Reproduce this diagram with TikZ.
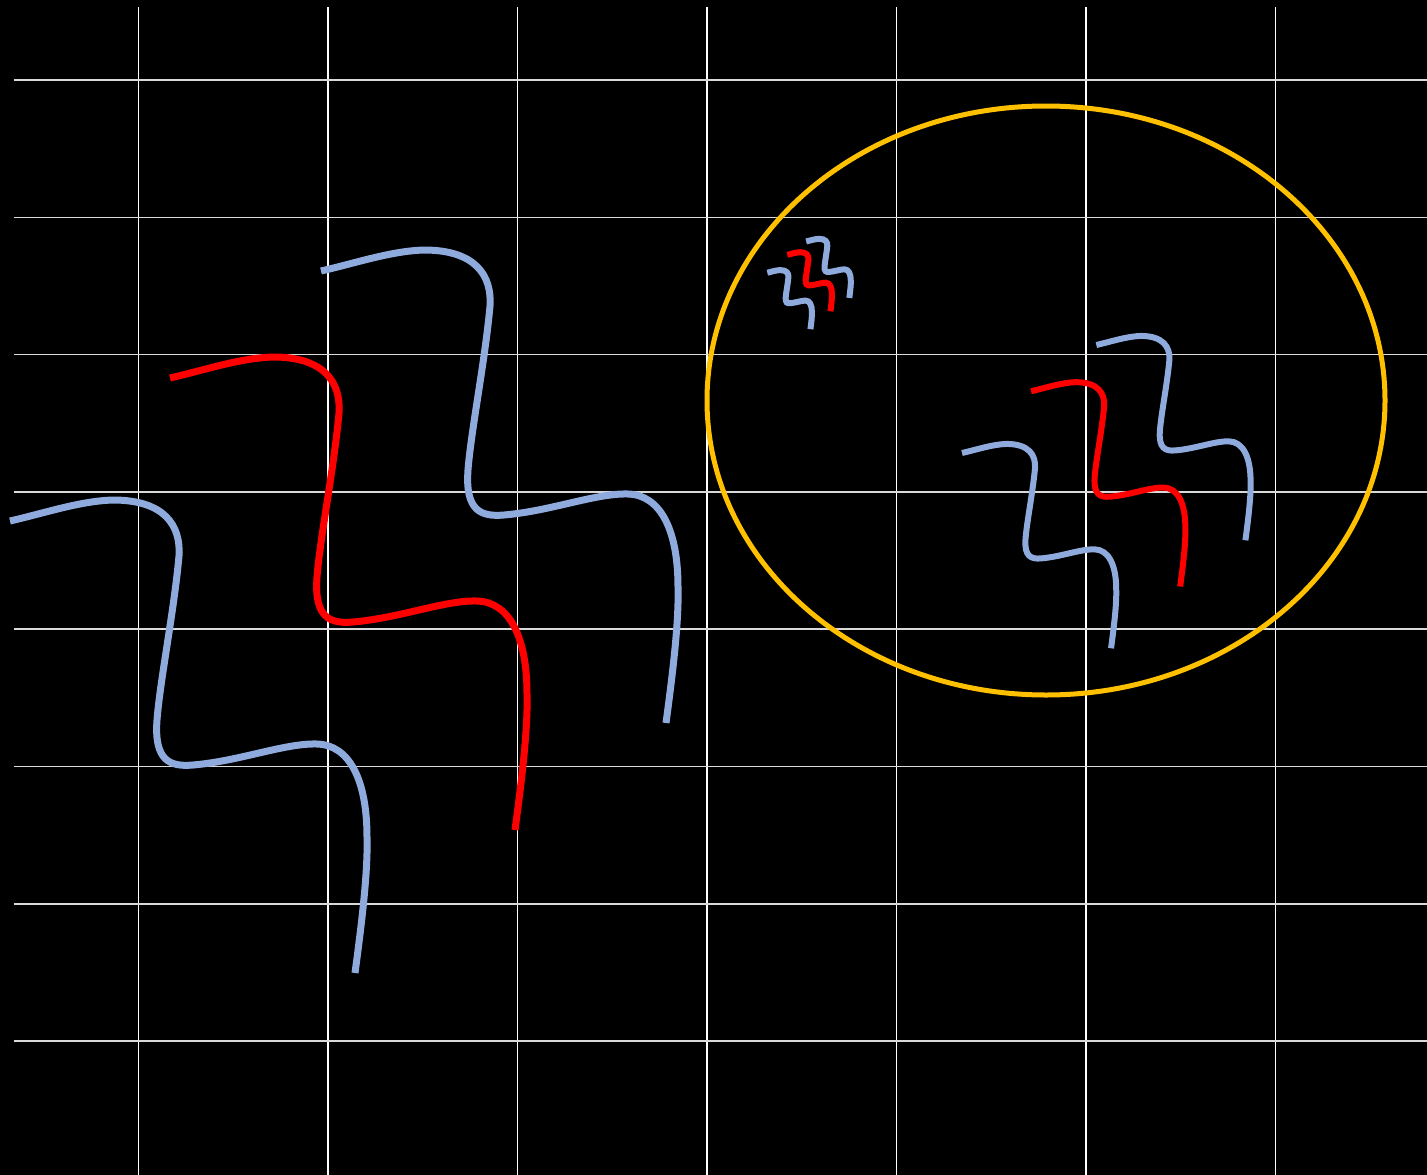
\documentclass[tikz,border=0pt]{standalone}
\definecolor{wblue}{HTML}{8FAADC}
\definecolor{wred}{HTML}{FF0000}
\definecolor{worange}{HTML}{FFC000}
\definecolor{gridcol}{HTML}{D9D9D9}
\newcommand\wavecurve[2]{\draw[#1,shift={#2}] (0,0) .. controls (35,-8) and (70,-20) .. (103,-21)
      .. controls (155,-21) and (171,5) .. (169,35)
      .. controls (164,90) and (150,160) .. (147,199)
      .. controls (144,240) and (160,246) .. (183,244)
      .. controls (230,240) and (275,222) .. (307,223)
      .. controls (340,224) and (357,260) .. (357,316)
      .. controls (358,350) and (352,400) .. (345,452);}
\newcommand\wavetrio{%
  \wavecurve{wblue}{(0,0)}%
  \wavecurve{wblue}{(311,-250)}%
  \wavecurve{wred}{(160,-143)}}
\begin{document}
\begin{tikzpicture}[x=1pt,y=-1pt,
  gridv/.style={white,line width=1.5pt},
  gridh/.style={gridcol,line width=1.5pt},
  ring/.style={draw=worange,line width=5pt}]
\fill[black] (0,0) rectangle (1427,1175);
\useasboundingbox (0,0) rectangle (1427,1175);
\foreach \x in {138.5,328,517.5,707,896.5,1086,1275.5}
  \draw[gridv] (\x,7) -- (\x,1175);
\foreach \y in {80,217.3,354.6,491.9,629.2,766.5,903.8,1041.1}
  \draw[gridh] (13.5,\y) -- (1427,\y);
\draw[ring] (1046,400.5) ellipse [x radius=339, y radius=294.5];
\begin{scope}[shift={(10,521)},line width=7pt]
  \wavetrio
\end{scope}
\begin{scope}[shift={(962,453)},scale=0.432,line width=6pt]
  \wavetrio
\end{scope}
\begin{scope}[shift={(767.3,272.7)},scale=0.125,line width=6pt]
  \wavetrio
\end{scope}
\end{tikzpicture}
\end{document}
